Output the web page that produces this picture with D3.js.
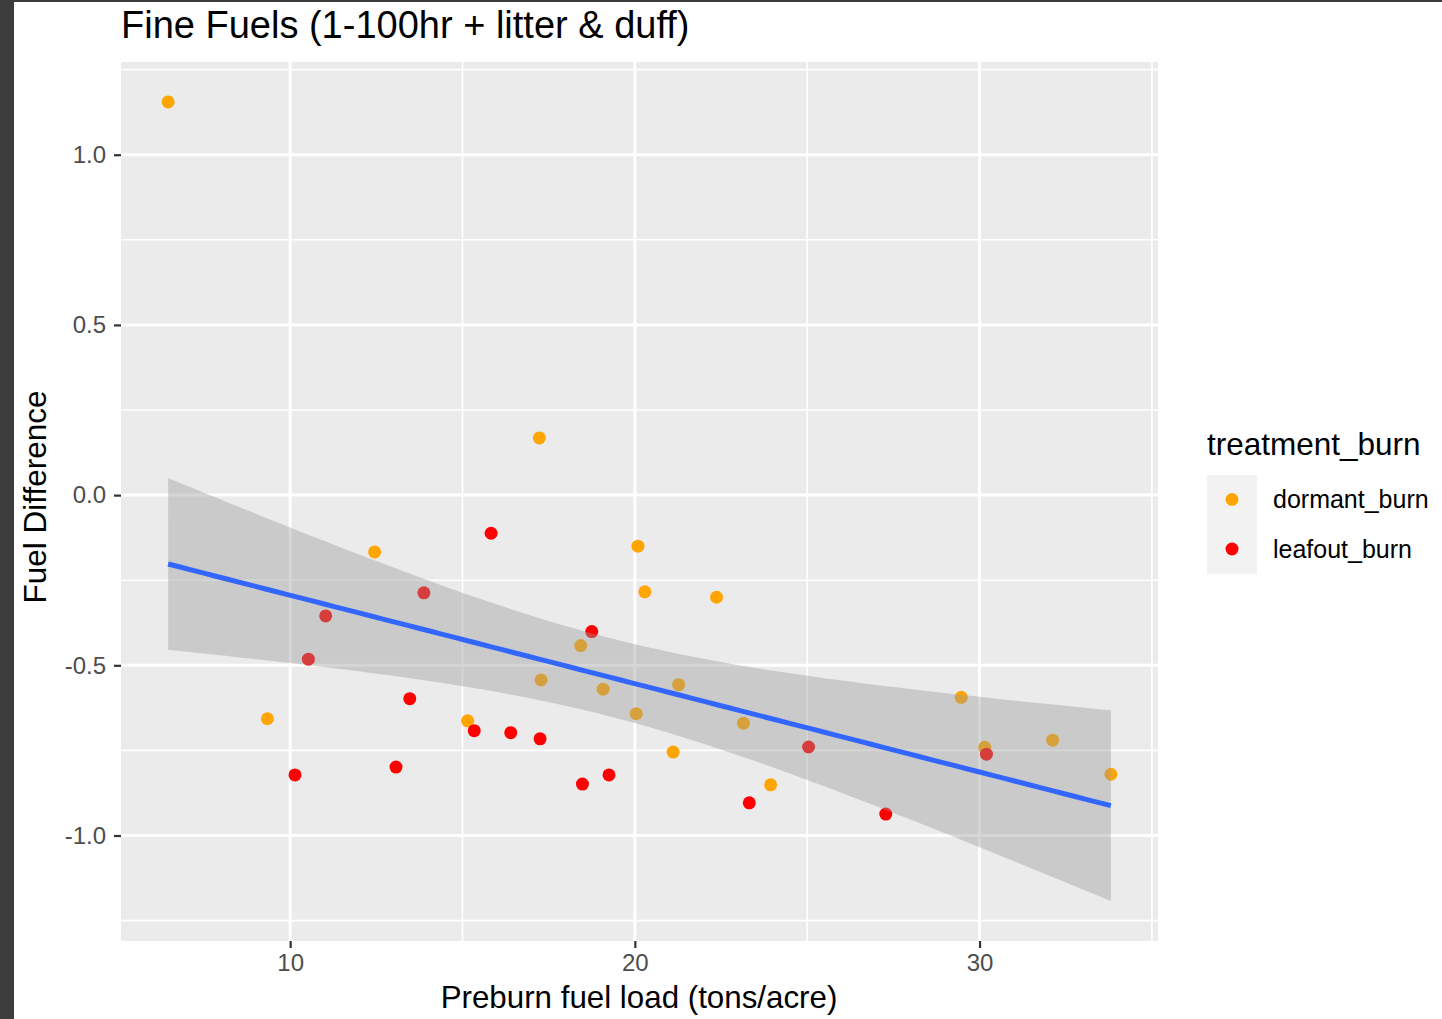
<!DOCTYPE html>
<html>
<head>
<meta charset="utf-8">
<script src="https://cdn.jsdelivr.net/npm/d3@7"></script>
<style>
body { margin: 0; background: #fff; }
text { font-family: "Liberation Sans", Arial, sans-serif; }
</style>
</head>
<body>
<svg id="svgID" width="1442" height="1019"></svg>
<script>
// values
var dormantLoad = [6.46, 9.34, 12.45, 17.23, 15.15, 17.28, 18.43, 19.08, 20.09, 20.29,
                   20.04, 21.27, 21.11, 22.37, 23.15, 23.94, 29.47, 30.15, 32.12, 33.81];
var dormantDiff = [1.155, -0.657, -0.167, 0.168, -0.663, -0.543, -0.442, -0.570, -0.150, -0.284,
                   -0.642, -0.557, -0.755, -0.300, -0.670, -0.851, -0.594, -0.741, -0.720, -0.820];
var leafoutLoad = [10.14, 10.53, 11.03, 13.07, 13.47, 13.88, 15.34, 15.83, 16.40, 17.25,
                   18.48, 18.75, 19.25, 23.32, 25.04, 27.28, 30.20];
var leafoutDiff = [-0.822, -0.482, -0.355, -0.799, -0.598, -0.287, -0.692, -0.112, -0.698, -0.716,
                   -0.849, -0.401, -0.822, -0.904, -0.740, -0.937, -0.761];

var groups = ["dormant_burn", "leafout_burn"];
var groupColors = ["orange", "red"];
var xTicks = [10, 20, 30], xMinor = [5, 15, 25, 35];
var yTicks = [-1, -0.5, 0, 0.5, 1], yMinor = [-1.25, -0.75, -0.25, 0.25, 0.75, 1.25];
var tCrit = 2.030; // qt(0.975, df = 35)

var svg = d3.select("#svgID"),
    panel = { left: 121, top: 62, right: 1158, bottom: 941 };

// edge of the screenshot
svg.append("rect").attr("x", 0).attr("y", 0).attr("width", 14).attr("height", 1019).attr("fill", "#3c3c3c");
svg.append("rect").attr("x", 0).attr("y", 0).attr("width", 1442).attr("height", 2).attr("fill", "#3c3c3c");

var data = [];
dormantLoad.forEach(function(v, i) { data.push({ x: v, y: dormantDiff[i], g: groups[0] }); });
leafoutLoad.forEach(function(v, i) { data.push({ x: v, y: leafoutDiff[i], g: groups[1] }); });

// geom_smooth(method = "lm")
var n = data.length,
    mx = d3.mean(data, function(d) { return d.x; }),
    my = d3.mean(data, function(d) { return d.y; }),
    sxx = d3.sum(data, function(d) { return (d.x - mx) * (d.x - mx); }),
    sxy = d3.sum(data, function(d) { return (d.x - mx) * (d.y - my); }),
    slope = sxy / sxx,
    icpt = my - slope * mx,
    rss = d3.sum(data, function(d) { var r = d.y - (icpt + slope * d.x); return r * r; }),
    sigma = Math.sqrt(rss / (n - 2));

var xExt = d3.extent(data, function(d) { return d.x; });
var fit = d3.range(80).map(function(i) {
    var x = xExt[0] + (xExt[1] - xExt[0]) * i / 79,
        yh = icpt + slope * x,
        se = sigma * Math.sqrt(1 / n + (x - mx) * (x - mx) / sxx);
    return { x: x, y: yh, lo: yh - tCrit * se, hi: yh + tCrit * se };
});

var yLo = Math.min(d3.min(data, function(d) { return d.y; }), d3.min(fit, function(d) { return d.lo; })),
    yHi = Math.max(d3.max(data, function(d) { return d.y; }), d3.max(fit, function(d) { return d.hi; }));
var xPad = (xExt[1] - xExt[0]) * 0.05, yPad = (yHi - yLo) * 0.05;

var x = d3.scaleLinear().domain([xExt[0] - xPad, xExt[1] + xPad]).range([panel.left, panel.right]);
var y = d3.scaleLinear().domain([yLo - yPad, yHi + yPad]).range([panel.bottom, panel.top]);

svg.append("rect")
    .attr("x", panel.left).attr("y", panel.top)
    .attr("width", panel.right - panel.left).attr("height", panel.bottom - panel.top)
    .attr("fill", "#ebebeb");

var grid = svg.append("g");
grid.selectAll(".vmin").data(xMinor).enter().append("line")
    .attr("x1", function(d) { return x(d); }).attr("x2", function(d) { return x(d); })
    .attr("y1", panel.top).attr("y2", panel.bottom)
    .style("stroke", "white").style("stroke-width", 1.6);
grid.selectAll(".hmin").data(yMinor).enter().append("line")
    .attr("y1", function(d) { return y(d); }).attr("y2", function(d) { return y(d); })
    .attr("x1", panel.left).attr("x2", panel.right)
    .style("stroke", "white").style("stroke-width", 1.6);
grid.selectAll(".vmaj").data(xTicks).enter().append("line")
    .attr("x1", function(d) { return x(d); }).attr("x2", function(d) { return x(d); })
    .attr("y1", panel.top).attr("y2", panel.bottom)
    .style("stroke", "white").style("stroke-width", 3);
grid.selectAll(".hmaj").data(yTicks).enter().append("line")
    .attr("y1", function(d) { return y(d); }).attr("y2", function(d) { return y(d); })
    .attr("x1", panel.left).attr("x2", panel.right)
    .style("stroke", "white").style("stroke-width", 3);

var color = d3.scaleOrdinal().domain(groups).range(groupColors);

// points
svg.append("g").selectAll("circle").data(data).enter().append("circle")
    .attr("cx", function(d) { return x(d.x); })
    .attr("cy", function(d) { return y(d.y); })
    .attr("r", 6.5)
    .attr("fill", function(d) { return color(d.g); });

// confidence band and fit
svg.append("path").datum(fit)
    .attr("d", d3.area().x(function(d) { return x(d.x); })
        .y0(function(d) { return y(d.lo); }).y1(function(d) { return y(d.hi); }))
    .attr("fill", "#999999").attr("fill-opacity", 0.4);
svg.append("path").datum(fit)
    .attr("d", d3.line().x(function(d) { return x(d.x); }).y(function(d) { return y(d.y); }))
    .attr("fill", "none").attr("stroke", "#3366ff").attr("stroke-width", 5);

// axes
var xAxis = svg.append("g").attr("transform", "translate(0," + panel.bottom + ")")
    .call(d3.axisBottom(x).tickValues(xTicks).tickSize(7).tickPadding(6).tickFormat(d3.format("d")));
var yAxis = svg.append("g").attr("transform", "translate(" + panel.left + ",0)")
    .call(d3.axisLeft(y).tickValues(yTicks).tickSize(7).tickPadding(8)
        .tickFormat(function(d) { return d3.format(".1f")(d).replace("−", "-"); }));
[xAxis, yAxis].forEach(function(a) {
    a.select(".domain").remove();
    a.selectAll(".tick line").attr("stroke", "#333333").attr("stroke-width", 2.2);
    a.selectAll(".tick text").attr("fill", "#4d4d4d").style("font-size", "24px")
        .style("font-family", "'Liberation Sans', Arial, sans-serif");
});

// titles
svg.append("text").attr("x", panel.left).attr("y", 38)
    .style("font-size", "38px").attr("fill", "black")
    .text("Fine Fuels (1-100hr + litter & duff)");
svg.append("text").attr("x", 639).attr("y", 1008)
    .attr("text-anchor", "middle").style("font-size", "31.3px").attr("fill", "black")
    .text("Preburn fuel load (tons/acre)");
svg.append("text")
    .attr("transform", "translate(46,497) rotate(-90)")
    .attr("text-anchor", "middle").style("font-size", "31.5px").attr("fill", "black")
    .text("Fuel Difference");

// legend
var legend = svg.append("g").attr("transform", "translate(1207,0)");
legend.append("text").attr("x", 0).attr("y", 455)
    .style("font-size", "31.5px").attr("fill", "black").text("treatment_burn");
var items = legend.selectAll(".item").data(groups).enter().append("g")
    .attr("transform", function(d, i) { return "translate(0," + (475 + i * 49.5) + ")"; });
items.append("rect").attr("width", 50).attr("height", 49.5).attr("fill", "#f2f2f2");
items.append("circle").attr("cx", 25).attr("cy", 24.5).attr("r", 6.5)
    .attr("fill", function(d) { return color(d); });
items.append("text").attr("x", 66).attr("y", 33)
    .style("font-size", "25px").attr("fill", "black").text(function(d) { return d; });
</script>
</body>
</html>
